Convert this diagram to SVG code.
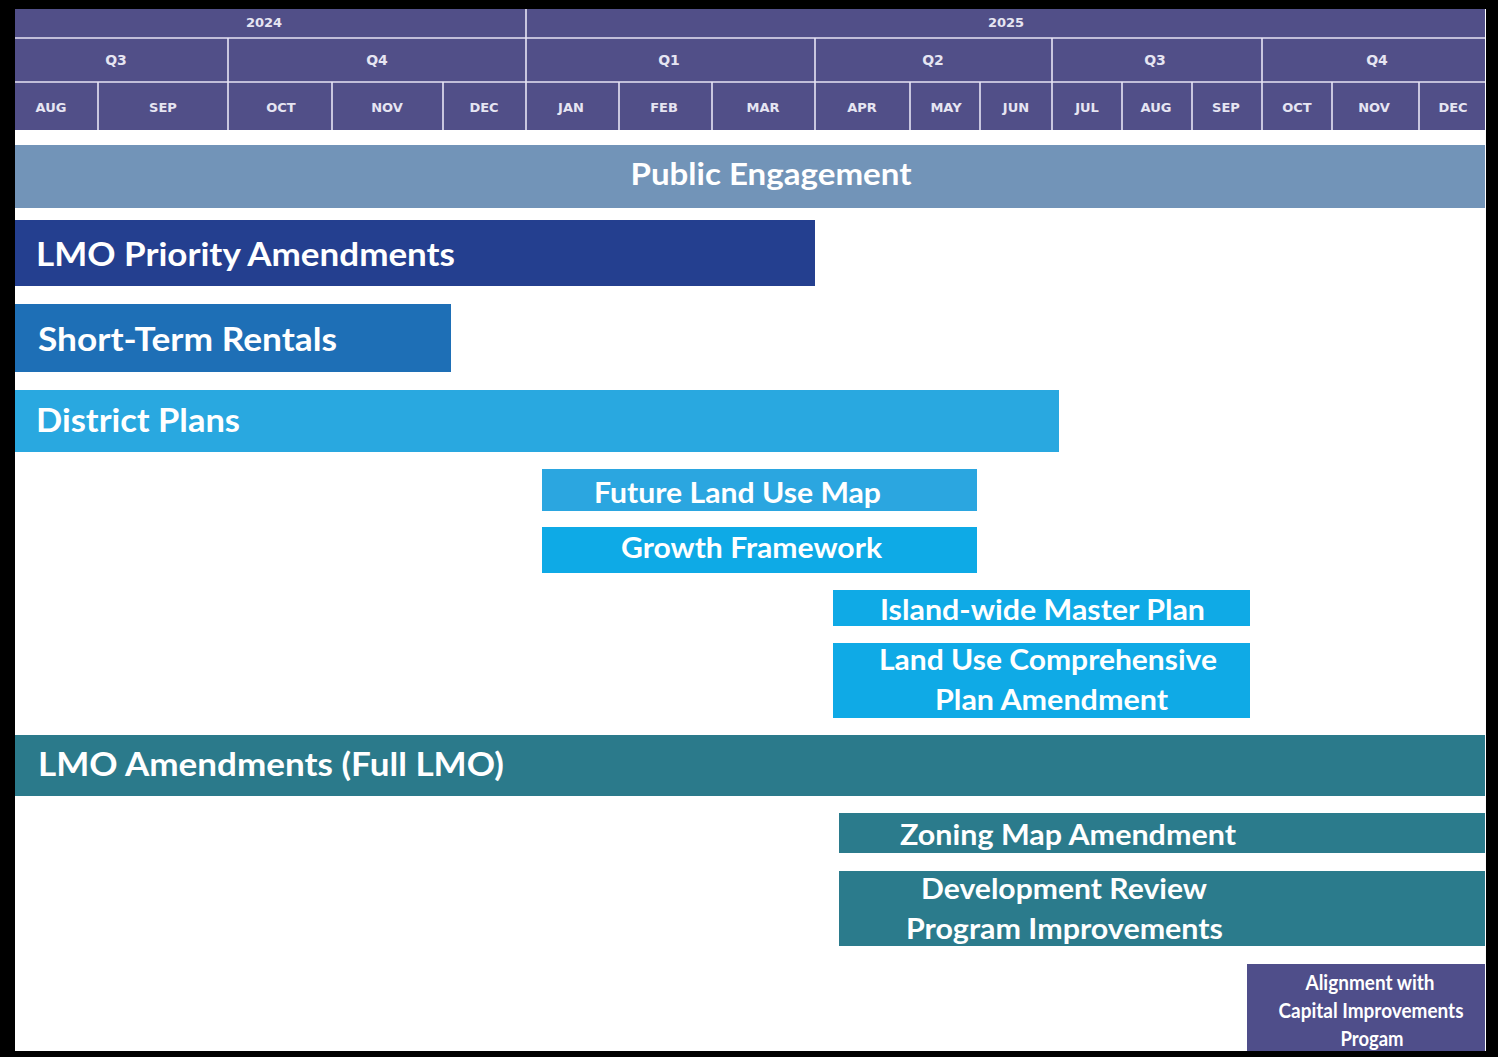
<svg xmlns="http://www.w3.org/2000/svg" width="1498" height="1057" viewBox="0 0 1498 1057">
  <style>
    .hdr { fill: #514f88; }
    .grid { stroke: #e6e4f4; stroke-width: 1.6; fill: none; }
    .ht { font-family: "DejaVu Sans", "Liberation Sans", sans-serif; font-weight: bold; fill: #e6e5f2; text-anchor: middle; }
    .yr { font-size: 13px; }
    .qt { font-size: 14px; }
    .mo { font-size: 13px; }
    .bt { font-family: Lato, "Open Sans", "Liberation Sans", sans-serif; font-weight: bold; fill: #ffffff; }
    .big { font-size: 32px; }
    .mid { font-size: 28px; }
    .sm { font-size: 20px; }
    .c { text-anchor: middle; }
  </style>

  <!-- frame -->
  <rect x="0" y="0" width="1498" height="1057" fill="#000000"/>
  <rect x="15" y="9" width="1471" height="1042" fill="#ffffff"/>

  <!-- timeline header -->
  <g id="timeline-header">
    <rect class="hdr" x="15" y="9" width="1470" height="121"/>
    <path class="grid" d="M15 38H1485 M15 82H1485"/>
    <path class="grid" d="M526 9V130 M228 38V130 M815 38V130 M1052 38V130 M1262 38V130"/>
    <path class="grid" d="M98 82V130 M332 82V130 M443 82V130 M619 82V130 M712 82V130 M910 82V130 M980 82V130 M1122 82V130 M1192 82V130 M1332 82V130 M1419 82V130"/>
    <text class="ht yr" x="264" y="27">2024</text>
    <text class="ht yr" x="1006" y="27">2025</text>
    <text class="ht qt" x="116" y="65">Q3</text>
    <text class="ht qt" x="377" y="65">Q4</text>
    <text class="ht qt" x="669" y="65">Q1</text>
    <text class="ht qt" x="933" y="65">Q2</text>
    <text class="ht qt" x="1155" y="65">Q3</text>
    <text class="ht qt" x="1377" y="65">Q4</text>
    <text class="ht mo" x="51" y="112">AUG</text>
    <text class="ht mo" x="163" y="112">SEP</text>
    <text class="ht mo" x="281" y="112">OCT</text>
    <text class="ht mo" x="387" y="112">NOV</text>
    <text class="ht mo" x="484" y="112">DEC</text>
    <text class="ht mo" x="571" y="112">JAN</text>
    <text class="ht mo" x="664" y="112">FEB</text>
    <text class="ht mo" x="763" y="112">MAR</text>
    <text class="ht mo" x="862" y="112">APR</text>
    <text class="ht mo" x="946" y="112">MAY</text>
    <text class="ht mo" x="1016" y="112">JUN</text>
    <text class="ht mo" x="1087" y="112">JUL</text>
    <text class="ht mo" x="1156" y="112">AUG</text>
    <text class="ht mo" x="1226" y="112">SEP</text>
    <text class="ht mo" x="1297" y="112">OCT</text>
    <text class="ht mo" x="1374" y="112">NOV</text>
    <text class="ht mo" x="1453" y="112">DEC</text>
  </g>

  <!-- task bars -->
  <g id="public-engagement">
    <rect x="15" y="145" width="1470" height="63" fill="#7294b8"/>
    <text class="bt c" x="771" y="185" font-size="30" textLength="281" lengthAdjust="spacingAndGlyphs">Public Engagement</text>
  </g>

  <g id="lmo-priority-amendments">
    <rect x="15" y="220" width="800" height="66" fill="#243f8f"/>
    <text class="bt big" x="36" y="266" textLength="419" lengthAdjust="spacingAndGlyphs">LMO Priority Amendments</text>
  </g>

  <g id="short-term-rentals">
    <rect x="15" y="304" width="436" height="68" fill="#1e6fb6"/>
    <text class="bt big" x="38" y="351" textLength="299" lengthAdjust="spacingAndGlyphs">Short-Term Rentals</text>
  </g>

  <g id="district-plans">
    <rect x="15" y="390" width="1044" height="62" fill="#29a8e0"/>
    <text class="bt big" x="36" y="432" textLength="204" lengthAdjust="spacingAndGlyphs">District Plans</text>
  </g>

  <g id="future-land-use-map">
    <rect x="542" y="469" width="435" height="42" fill="#2ba6e0"/>
    <text class="bt mid" x="594" y="503" textLength="287" lengthAdjust="spacingAndGlyphs">Future Land Use Map</text>
  </g>

  <g id="growth-framework">
    <rect x="542" y="527" width="435" height="46" fill="#0eaae6"/>
    <text class="bt mid" x="621" y="558" textLength="261" lengthAdjust="spacingAndGlyphs">Growth Framework</text>
  </g>

  <g id="island-wide-master-plan">
    <rect x="833" y="590" width="417" height="36" fill="#0faae6"/>
    <text class="bt mid" x="880" y="620" textLength="325" lengthAdjust="spacingAndGlyphs">Island-wide Master Plan</text>
  </g>

  <g id="land-use-comprehensive-plan-amendment">
    <rect x="833" y="643" width="417" height="75" fill="#0faae6"/>
    <text class="bt mid" x="879" y="670" textLength="338" lengthAdjust="spacingAndGlyphs">Land Use Comprehensive</text>
    <text class="bt mid" x="935" y="710" textLength="233" lengthAdjust="spacingAndGlyphs">Plan Amendment</text>
  </g>

  <g id="lmo-amendments-full">
    <rect x="15" y="735" width="1470" height="61" fill="#2b7a8b"/>
    <text class="bt big" x="38" y="776" textLength="466" lengthAdjust="spacingAndGlyphs">LMO Amendments (Full LMO)</text>
  </g>

  <g id="zoning-map-amendment">
    <rect x="839" y="813" width="646" height="40" fill="#2b7b8c"/>
    <text class="bt mid" x="900" y="845" textLength="336" lengthAdjust="spacingAndGlyphs">Zoning Map Amendment</text>
  </g>

  <g id="development-review-program-improvements">
    <rect x="839" y="871" width="646" height="75" fill="#2b7b8c"/>
    <text class="bt mid" x="921" y="899" textLength="286" lengthAdjust="spacingAndGlyphs">Development Review</text>
    <text class="bt mid" x="906" y="939" textLength="317" lengthAdjust="spacingAndGlyphs">Program Improvements</text>
  </g>

  <g id="capital-improvements-alignment">
    <rect x="1247" y="964" width="238" height="87" fill="#4f4e8a"/>
    <text class="bt sm c" x="1370" y="990" textLength="129" lengthAdjust="spacingAndGlyphs">Alignment with</text>
    <text class="bt sm c" x="1371" y="1018" textLength="185" lengthAdjust="spacingAndGlyphs">Capital Improvements</text>
    <text class="bt sm c" x="1372" y="1046" textLength="63" lengthAdjust="spacingAndGlyphs">Progam</text>
  </g>

  <!-- bottom edge of frame drawn over the last bar -->
  <rect x="0" y="1051" width="1498" height="6" fill="#000000"/>
</svg>
